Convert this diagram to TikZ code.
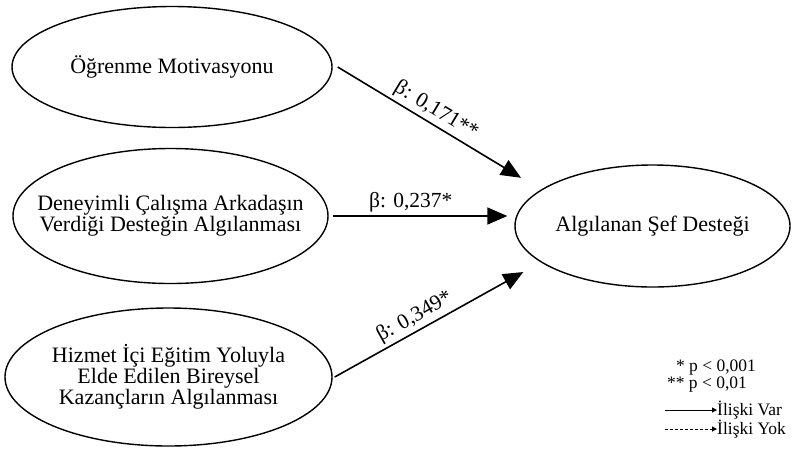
\documentclass[tikz,border=0pt]{standalone}
\usepackage{fontspec}
\setmainfont{Liberation Serif}
\usepackage{tikz}
\usetikzlibrary{arrows.meta, shapes.geometric, positioning}

\begin{document}
\begin{tikzpicture}[x=1pt, y=-1pt,
    faktor/.style={ellipse, draw, line width=1.4pt, inner sep=0pt, align=center,
        font=\fontsize{22}{18}\selectfont},
    etki/.style={line width=1.6pt, -{Triangle[length=20pt, width=17pt]}},
    katsayi/.style={font=\fontsize{21.5}{21.5}\selectfont, inner sep=3pt},
    lejant/.style={font=\fontsize{17.5}{17.5}\selectfont, inner sep=0pt}]
    \useasboundingbox (0,0) rectangle (792,448);

    \node (motiv) [faktor, minimum width=320pt, minimum height=121pt] at (172,67) {Öğrenme Motivasyonu};
    \node (deney) [faktor, inner xsep=-22pt, minimum width=315pt, minimum height=135pt] at (170.5,216) {Deneyimli Çalışma Arkadaşın\\Verdiği Desteğin Algılanması};
    \node (hizmet) [faktor, inner xsep=-5pt, minimum width=327pt, minimum height=138pt] at (168.5,377) {Hizmet İçi Eğitim Yoluyla\\Elde Edilen Bireysel\\Kazançların Algılanması};
    \node (sef) [faktor, inner xsep=-5pt, minimum width=275pt, minimum height=122pt] at (652.5,226) {Algılanan Şef Desteği};

    \draw [etki, shorten >=23pt] ([xshift=5pt]motiv.east) -- node[katsayi, above, sloped, pos=0.45] {β: 0,171**} (sef.162);
    \draw [etki, shorten >=7pt] ([xshift=4pt]deney.east) -- node[katsayi, above, pos=0.43] {β: 0,237*} (deney.east -| sef.west);
    \draw [etki, shorten >=20pt] ([xshift=2pt]hizmet.east) -- node[katsayi, above, sloped, pos=0.42] {β: 0,349*} (sef.198);

    % lejant
    \node (p1) [lejant] at (716,368) {* p < 0,001};
    \node (p2) [lejant] at (707,385) {** p < 0,01};
    \coordinate (var0) at (665,410);
    \coordinate (yok0) at (665,429);
    \node (var) [lejant, anchor=west] at (717,410) {İlişki Var};
    \node (yok) [lejant, anchor=west] at (717,429) {İlişki Yok};
    \draw [line width=1pt, -{Triangle[length=5pt, width=5pt]}] (var0) -- (var.west);
    \draw [line width=1pt, dashed, dash pattern=on 3pt off 2pt, -{Triangle[length=5pt, width=5pt]}] (yok0) -- (yok.west);
\end{tikzpicture}
\end{document}
